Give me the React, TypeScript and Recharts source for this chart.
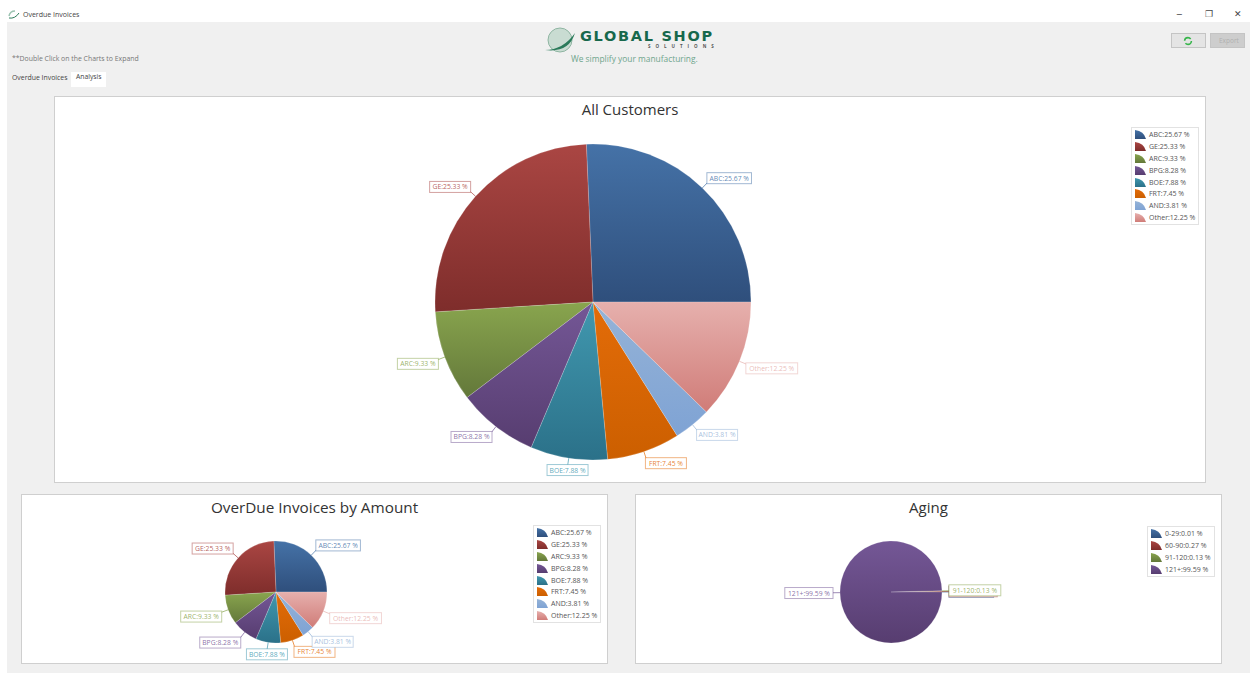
import React from "react";
import { PieChart, Pie, Cell, Legend } from "recharts";

const customerNames = ["ABC", "GE", "ARC", "BPG", "BOE", "FRT", "AND", "Other"];
const customerValues = [25.67, 25.33, 9.33, 8.28, 7.88, 7.45, 3.81, 12.25];
const agingNames = ["0-29", "60-90", "91-120", "121+"];
const agingValues = [0.01, 0.27, 0.13, 99.59];
const topColors = ["#4572A7", "#AA4643", "#89A54E", "#745796", "#4198AF", "#E36C09", "#95B3D7", "#E6B0AD"];
const bottomColors = ["#2F4F7C", "#7E2D2B", "#63783A", "#573D70", "#2B7189", "#CC5F00", "#7FA3D4", "#D07C78"];
const FONT = "'Open Sans', 'Noto Sans', sans-serif";

const toRows = (names: string[], values: number[]) => names.map((name, i) => ({ name, value: values[i] }));
const customerRows = toRows(customerNames, customerValues);
const agingRows = toRows(agingNames, agingValues);

const Gradients = () => (
  <svg width={0} height={0} style={{ position: "absolute" }}>
    <defs>
      {topColors.map((c, i) => (
        <linearGradient key={i} id={`slice${i}`} x1="0" y1="0" x2="0" y2="1">
          <stop offset="0%" stopColor={c} />
          <stop offset="100%" stopColor={bottomColors[i]} />
        </linearGradient>
      ))}
    </defs>
  </svg>
);

const RAD = Math.PI / 180;
const sliceLabel = (props: any) => {
  const { cx, cy, midAngle, outerRadius, name, value, index } = props;
  const text = `${name}:${Number(value).toFixed(2)} %`;
  const w = text.length * 3.6 + 5;
  const h = 11;
  const c = Math.cos(midAngle * RAD);
  const s = Math.sin(midAngle * RAD);
  const ex = cx + (outerRadius + 8) * c;
  const ey = cy - (outerRadius + 8) * s;
  const boxX = Math.abs(c) < 0.2 ? ex - w / 2 : c > 0 ? ex - 1 : ex - w + 1;
  const boxY = ey - h / 2 - Math.sign(s) * 4 * Math.min(1, Math.abs(s) * 5);
  const edge = topColors[index];
  return (
    <g>
      <line x1={cx + outerRadius * c} y1={cy - outerRadius * s} x2={ex} y2={ey} stroke={edge} strokeOpacity={0.7} strokeWidth={1} />
      <rect x={boxX} y={boxY} width={w} height={h} fill="#fff" stroke={edge} strokeOpacity={0.5} strokeWidth={1} />
      <text x={boxX + w / 2} y={boxY + h / 2 + 2.5} textAnchor="middle" fontSize={6.8} fontFamily={FONT} fill={edge} fillOpacity={0.85}>
        {text}
      </text>
    </g>
  );
};

const LegendBox = ({ payload }: any) => (
  <div style={{ background: "#fff", border: "1px solid #e2e2e2", padding: "1px 2px 1px 3px", boxSizing: "border-box", width: 68 }}>
    {(payload || []).map((item: any, i: number) => (
      <div key={i} style={{ display: "flex", alignItems: "center", height: 11.8, whiteSpace: "nowrap" }}>
        <svg width={11} height={9} style={{ flex: "none", marginRight: 3 }}>
          <path d="M0 0 Q9 1 11 9 L0 9 Z" fill={`url(#slice${i})`} />
        </svg>
        <span style={{ fontFamily: FONT, fontSize: 7, color: "#555" }}>{`${item.value}:${Number(item.payload.value).toFixed(2)} %`}</span>
      </div>
    ))}
  </div>
);

type PanelProps = {
  title: string; rows: { name: string; value: number }[];
  left: number; top: number; width: number; height: number;
  cx: number; cy: number; radius: number;
  legendLeft: number; legendTop: number; titleSize: number;
};

const Panel = ({ title, rows, left, top, width, height, cx, cy, radius, legendLeft, legendTop, titleSize }: PanelProps) => (
  <div style={{ position: "absolute", left, top, width, height, background: "#fff", border: "1px solid #cfcfcf", boxSizing: "border-box" }}>
    <div style={{ position: "absolute", left: 0, right: 0, top: 2, textAlign: "center", fontFamily: FONT, fontSize: titleSize, color: "#333", lineHeight: "20px" }}>
      {title}
    </div>
    <div style={{ position: "absolute", left: 0, top: 0 }}>
      <PieChart width={width - 2} height={height - 2} margin={{ top: 0, right: 0, bottom: 0, left: 0 }}>
        <Pie
          data={rows} dataKey="value" nameKey="name"
          cx={cx - left - 1} cy={cy - top - 1} outerRadius={radius}
          startAngle={0} endAngle={360} isAnimationActive={false}
          stroke="#ffffff" strokeOpacity={0.6} strokeWidth={0.3}
          label={sliceLabel} labelLine={false}
        >
          {rows.map((_, i) => <Cell key={i} fill={`url(#slice${i})`} />)}
        </Pie>
        <Legend
          content={<LegendBox />}
          itemSorter={null}
          wrapperStyle={{ left: legendLeft - left - 1, top: legendTop - top - 1, width: 68, bottom: "auto", right: "auto" }}
        />
      </PieChart>
    </div>
  </div>
);

const label = (text: string, left: number, top: number, size: number, color: string, extra: React.CSSProperties = {}) => (
  <div style={{ position: "absolute", left, top, fontFamily: FONT, fontSize: size, color, whiteSpace: "nowrap", lineHeight: "12px", ...extra }}>{text}</div>
);

export default function App() {
  return (
    <div style={{ position: "absolute", left: 0, top: 0, width: 1250, height: 673, overflow: "hidden", background: "#fff" }}>
      <Gradients />
      <div style={{ position: "absolute", left: 7, top: 22, width: 1243, height: 651, background: "#f0f0f0" }} />
      {label("Overdue Invoices", 23, 9, 7, "#444")}
      <svg width={14} height={10} style={{ position: "absolute", left: 8, top: 10 }}>
        <path d="M1 6 Q2 1 7 1" stroke="#9cc4b2" fill="none" strokeWidth={1.5} />
        <path d="M1 8 Q7 9 11 3" stroke="#2e7d5b" fill="none" strokeWidth={1} />
      </svg>
      {label("−", 1176, 8, 11, "#444")}
      {label("❐", 1205, 8, 9, "#444")}
      {label("✕", 1234, 8, 9, "#444")}

      <svg width={40} height={36} style={{ position: "absolute", left: 541, top: 22 }}>
        <circle cx={19} cy={18} r={12} fill="#c9dcd2" stroke="#8fb5a2" strokeWidth={1} />
        <path d="M4 28 Q22 28 34 11 Q28 31 4 28 Z" fill="#2a7a5a" />
      </svg>
      {label("GLOBAL SHOP", 580, 29, 14.5, "#17684c", { fontWeight: 700, fontFamily: "'DejaVu Sans', sans-serif", letterSpacing: 1.7, lineHeight: "14px" })}
      {label("SOLUTIONS", 648, 40, 4.5, "#555", { letterSpacing: 5, fontWeight: 700 })}
      {label("We simplify your manufacturing.", 571, 53, 8.4, "#6fa58c")}

      {label("**Double Click on the Charts to Expand", 12, 53, 6.9, "#777")}
      {label("Overdue Invoices", 12, 72, 6.9, "#444")}
      <div style={{ position: "absolute", left: 71, top: 72, width: 35, height: 15, background: "#fff" }} />
      {label("Analysis", 76, 71, 6.8, "#444")}

      <div style={{ position: "absolute", left: 1171, top: 33, width: 35, height: 15, background: "#e4e4e4", border: "1px solid #c4c4c4", boxSizing: "border-box" }} />
      <svg width={10} height={10} style={{ position: "absolute", left: 1183, top: 36 }}>
        <circle cx={5} cy={5} r={3.4} fill="none" stroke="#36b54a" strokeWidth={1.6} strokeDasharray="8 2.6" />
      </svg>
      <div style={{ position: "absolute", left: 1210, top: 33, width: 35, height: 15, background: "#cdcdcd", border: "1px solid #c4c4c4", boxSizing: "border-box" }} />
      {label("Export", 1219, 35, 6.5, "#b0b0b0")}

      <Panel title="All Customers" rows={customerRows} left={54} top={96} width={1152} height={387} cx={593} cy={302} radius={158} legendLeft={1131} legendTop={127} titleSize={15} />
      <Panel title="OverDue Invoices by Amount" rows={customerRows} left={21} top={494} width={587} height={170} cx={276} cy={592} radius={51} legendLeft={533} legendTop={525} titleSize={15.3} />
      <Panel title="Aging" rows={agingRows} left={635} top={494} width={587} height={170} cx={891} cy={592} radius={51} legendLeft={1147} legendTop={526} titleSize={15} />
    </div>
  );
}
